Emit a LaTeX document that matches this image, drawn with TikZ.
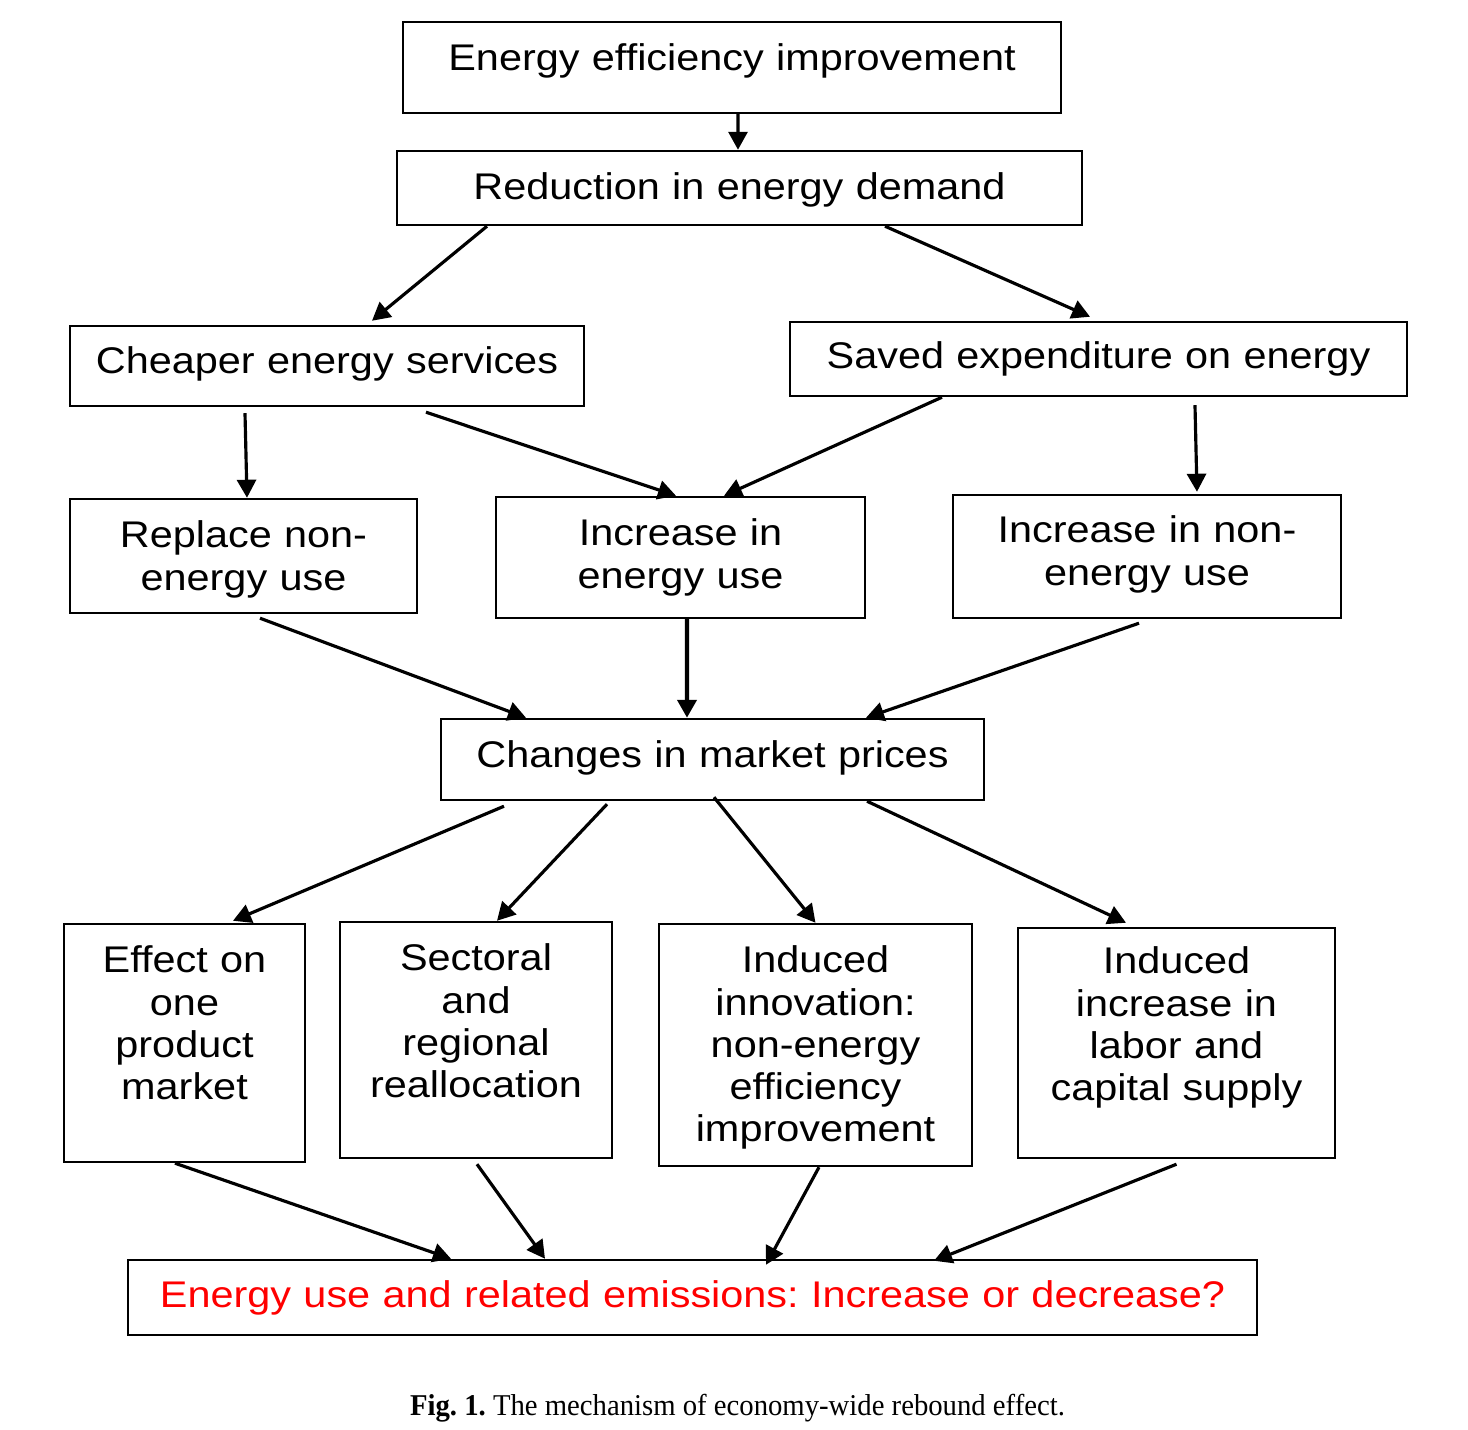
\documentclass[tikz,border=0pt]{standalone}
\usepackage{fontspec}
\usepackage{tikz}
\usetikzlibrary{arrows.meta}
\newfontfamily\boxfont{Liberation Sans}[FakeStretch=1.116]
\newfontfamily\capfont{Liberation Serif}[FakeStretch=0.95]
\frenchspacing

\begin{document}
\begin{tikzpicture}[>={Triangle[length=1.8mm,width=1.9mm]},
  box/.style={draw, line width=0.7pt, inner sep=0pt, align=center,
    font=\boxfont\fontsize{10.56pt}{12pt}\selectfont},
  arr/.style={->, line width=0.9pt}]
  \useasboundingbox (0,0) rectangle (14.68,-14.30);
  % Top chain
  \node[box, text width=6.58cm, text height=0.49cm, text depth=0.42cm] (effic) at (7.32,-0.675) {Energy efficiency improvement};
  \node[box, text width=6.85cm, text height=0.49cm, text depth=0.25cm] (reduc) at (7.395,-1.88) {Reduction in energy demand};
  \node[box, text width=5.14cm, text height=0.48cm, text depth=0.32cm] (cheap) at (3.27,-3.66) {Cheaper energy services};
  \node[box, text width=6.17cm, text height=0.47cm, text depth=0.27cm] (saved) at (10.985,-3.59) {Saved expenditure on energy};
  % Middle row
  \node[box, text width=3.47cm, text height=0.49cm, text depth=0.65cm] (replace) at (2.435,-5.56) {Replace non-\\energy use};
  \node[box, text width=3.69cm, text height=0.49cm, text depth=0.72cm] (incE) at (6.805,-5.575) {Increase in\\energy use};
  \node[box, text width=3.88cm, text height=0.48cm, text depth=0.75cm] (incN) at (11.47,-5.565) {Increase in non-\\energy use};
  \node[box, text width=5.43cm, text height=0.49cm, text depth=0.32cm] (change) at (7.125,-7.595) {Changes in market prices};
  % Bottom row
  \node[box, text width=2.41cm, text height=0.49cm, text depth=1.89cm] (effect) at (1.845,-10.43) {Effect on\\one\\product\\market};
  \node[box, text width=2.72cm, text height=0.49cm, text depth=1.87cm] (sector) at (4.76,-10.40) {Sectoral\\and\\regional\\reallocation};
  \node[box, text width=3.13cm, text height=0.49cm, text depth=1.93cm] (innov) at (8.155,-10.45) {Induced\\innovation:\\non-energy\\efficiency\\improvement};
  \node[box, text width=3.17cm, text height=0.46cm, text depth=1.84cm] (labor) at (11.765,-10.43) {Induced\\increase in\\labor and\\capital supply};
  \node[box, text=red, text width=11.29cm, text height=0.48cm, text depth=0.27cm] (result) at (6.925,-12.975) {Energy use and related emissions: Increase or decrease?};
  % Caption
  \node[anchor=base, inner sep=0pt, font=\capfont\fontsize{8.6pt}{10pt}\selectfont] (cap) at (7.375,-14.16) {\textbf{Fig. 1.} The mechanism of economy-wide rebound effect.};
  % Arrows
  \draw[arr] ([xshift=0.06cm]effic.south) -- ([xshift=-0.015cm]reduc.north);
  \draw[arr] ([xshift=-2.525cm]reduc.south) -- ([xshift=0.45cm,yshift=0.04cm]cheap.north);
  \draw[arr] ([xshift=1.455cm]reduc.south) -- ([xshift=-0.085cm,yshift=0.04cm]saved.north);
  \draw[arr] ([xshift=-0.82cm,yshift=-0.06cm]cheap.south) -- ([xshift=0.035cm]replace.north);
  \draw[arr] ([xshift=0.99cm,yshift=-0.05cm]cheap.south) -- ([xshift=-0.045cm]incE.north);
  \draw[arr] ([xshift=-1.565cm]saved.south) -- ([xshift=0.435cm]incE.north);
  \draw[arr] ([xshift=0.965cm,yshift=-0.08cm]saved.south) -- ([xshift=0.5cm,yshift=0.02cm]incN.north);
  \draw[arr] ([xshift=0.165cm,yshift=-0.04cm]replace.south) -- ([xshift=-1.865cm]change.north);
  \draw[arr, line width=1.2pt] ([xshift=0.065cm]incE.south) -- ([xshift=-0.255cm]change.north);
  \draw[arr] ([xshift=-0.08cm,yshift=-0.04cm]incN.south) -- ([xshift=1.535cm]change.north);
  \draw[arr] ([xshift=-2.085cm,yshift=-0.05cm]change.south) -- ([xshift=0.485cm,yshift=0.02cm]effect.north);
  \draw[arr] ([xshift=-1.055cm,yshift=-0.03cm]change.south) -- ([xshift=0.21cm]sector.north);
  \draw[arr] ([xshift=0.015cm,yshift=0.04cm]change.south) -- (innov.north);
  \draw[arr] ([xshift=1.545cm]change.south) -- ([xshift=-0.505cm,yshift=0.04cm]labor.north);
  \draw[arr] ([xshift=-0.095cm]effect.south) -- ([xshift=-2.415cm]result.north);
  \draw[arr] ([xshift=0.01cm,yshift=-0.05cm]sector.south) -- ([xshift=-1.475cm]result.north);
  \draw[arr] ([xshift=0.035cm]innov.south) -- ([xshift=0.735cm,yshift=-0.06cm]result.north);
  \draw[arr] ([yshift=-0.05cm]labor.south) -- ([xshift=2.415cm,yshift=-0.02cm]result.north);
\end{tikzpicture}
\end{document}
